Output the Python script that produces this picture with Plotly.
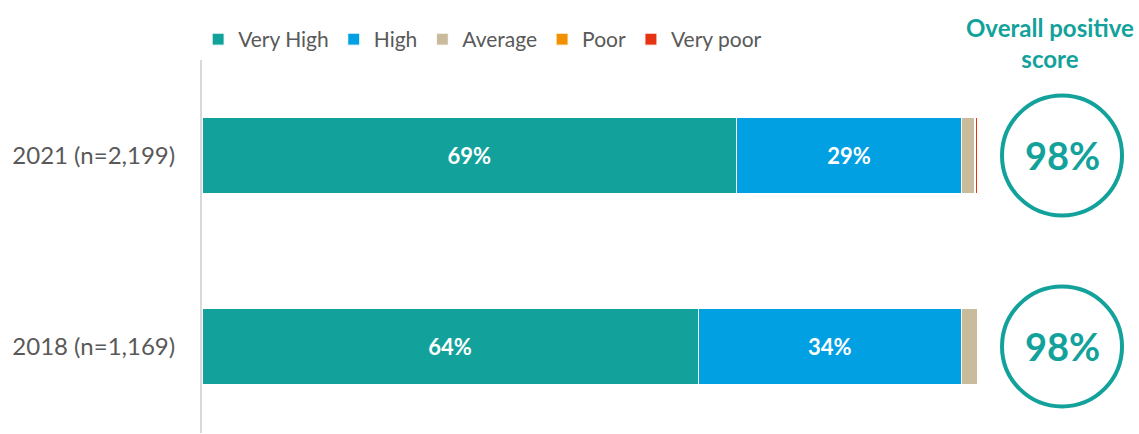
import plotly.graph_objects as go

# Survey results by year (percent of respondents)
years = ["2018 (n=1,169)", "2021 (n=2,199)"]
ratings = ["Very High", "High", "Average", "Poor", "Very poor"]
very_high = [64, 69]
high = [34, 29]
average = [2.0, 1.7]
poor = [0.0, 0.1]
very_poor = [0.0, 0.2]

series = [very_high, high, average, poor, very_poor]
colors = ["#13a29b", "#00a0e3", "#c9bb9c", "#f29100", "#e63312"]
labelled = [True, True, False, False, False]

TEAL = "#13a29b"
FONT = "Lato"

fig = go.Figure()
for name, vals, col, lab in zip(ratings, series, colors, labelled):
    fig.add_trace(go.Bar(
        y=years, x=vals, name=name, orientation="h",
        marker=dict(color=col, line=dict(color="white", width=1)),
        width=0.403,
        text=[f"{v:.0f}%" for v in vals] if lab else None,
        textposition="inside" if lab else "none",
        insidetextanchor="middle",
        textfont=dict(family=FONT, size=22, color="white", weight="bold"),
        hoverinfo="skip",
    ))

# Overall positive score = Very High + High, shown in a ring on the right
ring_x = 1.1097
for i, yr in enumerate(years):
    score = very_high[i] + high[i]
    fig.add_shape(type="circle", xref="paper", yref="y",
                  xsizemode="pixel", ysizemode="pixel",
                  xanchor=ring_x, yanchor=i,
                  x0=-60, x1=60, y0=-60, y1=60,
                  line=dict(color=TEAL, width=4))
    fig.add_annotation(xref="paper", yref="y", x=ring_x, y=i,
                       xanchor="center", yanchor="middle",
                       text=f"{score}%", showarrow=False,
                       font=dict(family=FONT, size=38, color=TEAL, weight="bold"))

fig.add_annotation(xref="paper", yref="paper", x=1.0942, y=1.0, yshift=-15,
                   xanchor="center", yanchor="bottom",
                   text="Overall positive<br>score", showarrow=False,
                   font=dict(family=FONT, size=24, color=TEAL, weight="bold"))

fig.update_layout(
    barmode="stack",
    width=1139, height=434,
    margin=dict(l=202, r=162, t=60, b=1),
    paper_bgcolor="white", plot_bgcolor="white",
    font=dict(family=FONT, color="#595959"),
    showlegend=True,
    legend=dict(orientation="h", x=-0.005, xanchor="left", y=1.0, yanchor="bottom",
                font=dict(family=FONT, size=21, color="#595959"),
                traceorder="normal", itemclick=False),
    xaxis=dict(range=[0, 100], visible=False, fixedrange=True),
    yaxis=dict(range=[-0.453, 1.5], showline=True, linecolor="#d9d9d9", linewidth=2,
               showgrid=False, zeroline=False, ticks="", ticklabelstandoff=20,
               tickfont=dict(family=FONT, size=24, color="#595959")),
)

fig.write_html("out.html")
